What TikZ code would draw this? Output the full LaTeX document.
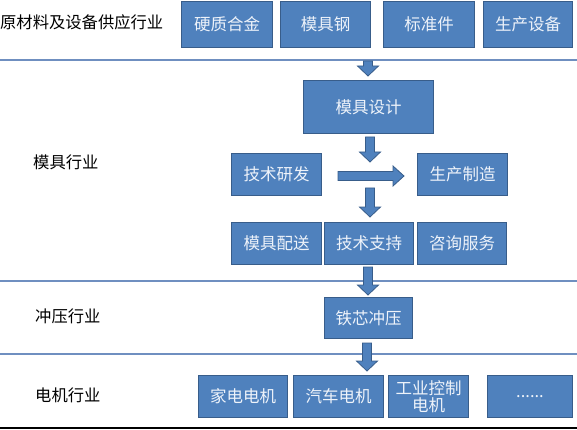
\documentclass[tikz,border=0pt]{standalone}
\usepackage{fontspec}
\setmainfont{Noto Sans CJK SC}
\begin{document}
\begin{tikzpicture}[x=1pt,y=-1pt,
  box/.style={draw=boxedge, fill=boxfill, line width=1pt, inner sep=0pt, anchor=north west,
     text=boxtext, font=\fontsize{16.5}{18}\selectfont, align=center},
  lbl/.style={anchor=west, inner sep=0pt, font=\fontsize{16.3}{18}\selectfont, text=black},
  arr/.style={draw=boxedge, fill=boxfill, line width=0.8pt},
  sep/.style={draw=sepblue, line width=1.2pt}]
\definecolor{boxfill}{HTML}{4F81BD}
\definecolor{boxedge}{HTML}{385D8A}
\definecolor{boxtext}{HTML}{EEF3FA}
\definecolor{sepblue}{HTML}{6F8FC0}
\useasboundingbox (0,0) rectangle (577,430);
\newcommand{\darrow}[3]{\draw[arr] (#1-4.5,#2) -- (#1+4.5,#2) -- (#1+4.5,#3-10) -- (#1+10.5,#3-10) -- (#1,#3) -- (#1-10.5,#3-10) -- (#1-4.5,#3-10) -- cycle;}
% separators
\draw[sep] (0,60) -- (577,60);
\draw[sep] (0,281) -- (577,281);
\draw[sep] (0,354) -- (577,354);
\draw[line width=1.6pt] (0,428) -- (577,428);
% labels
\node[lbl] (l1) at (0,22) {原材料及设备供应行业};
\node[lbl] (l2) at (33,162) {模具行业};
\node[lbl] (l3) at (35,316) {冲压行业};
\node[lbl] (l4) at (35,395) {电机行业};
% row 1
\node[box, minimum width=91pt, minimum height=46pt] (a1) at (181,1) {硬质合金};
\node[box, minimum width=90pt, minimum height=46pt] (a2) at (280,1) {模具钢};
\node[box, minimum width=91pt, minimum height=46pt] (a3) at (383,1) {标准件};
\node[box, minimum width=89pt, minimum height=46pt] (a4) at (483,1) {生产设备};
% mold
\node[box, minimum width=130pt, minimum height=53pt] (b1) at (303,80) {模具设计};
\node[box, minimum width=90pt, minimum height=42pt] (b2) at (231,153) {技术研发};
\node[box, minimum width=90pt, minimum height=42pt] (b3) at (417,153) {生产制造};
\node[box, minimum width=90pt, minimum height=42pt] (c1) at (231,222) {模具配送};
\node[box, minimum width=89pt, minimum height=42pt] (c2) at (324,222) {技术支持};
\node[box, minimum width=89pt, minimum height=42pt] (c3) at (417,222) {咨询服务};
% stamping
\node[box, minimum width=88pt, minimum height=41pt] (d1) at (324,297) {铁芯冲压};
% motor
\node[box, minimum width=89pt, minimum height=42pt] (e1) at (198,375) {家电电机};
\node[box, minimum width=90pt, minimum height=42pt] (e2) at (293,375) {汽车电机};
\node[box, minimum width=80pt, minimum height=42pt, font=\fontsize{16.5}{17}\selectfont] (e3) at (388,375) {工业控制\\电机};
\node[box, minimum width=85pt, minimum height=42pt] (e4) at (487,375) {......};
% arrows
\darrow{368}{61}{76}
\darrow{370}{137}{162}
\darrow{370}{188}{217}
\darrow{368}{267}{295}
\darrow{367}{343}{371}
\draw[arr] (338,171.5) -- (393,171.5) -- (393,166) -- (404,176) -- (393,186) -- (393,180.5) -- (338,180.5) -- cycle;
\end{tikzpicture}
\end{document}
